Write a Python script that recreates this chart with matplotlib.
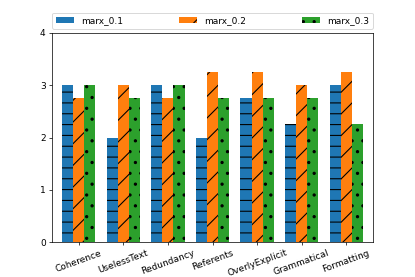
import matplotlib
matplotlib.use("Agg")
import matplotlib.pyplot as plt
import numpy as np

categories = ["Coherence", "UselessText", "Redundancy", "Referents",
              "OverlyExplicit", "Grammatical", "Formatting"]
marx_01 = [3.0, 2.0, 3.0, 2.0, 2.75, 2.25, 3.0]
marx_02 = [2.75, 3.0, 2.75, 3.25, 3.25, 3.0, 3.25]
marx_03 = [3.0, 2.75, 3.0, 2.75, 2.75, 2.75, 2.25]
series_labels = ["marx_0.1", "marx_0.2", "marx_0.3"]

plt.rcParams["hatch.linewidth"] = 1.2

DPI = 65
fig = plt.figure(figsize=(415 / DPI, 277 / DPI), dpi=DPI)
ax = fig.add_axes([52 / 415, 35 / 277, (373 - 52) / 415, (242 - 33) / 277])

x = np.arange(len(categories))
w = 0.25
ax.bar(x - w, marx_01, w, label=series_labels[0], color="#1f77b4", hatch="-")
ax.bar(x, marx_02, w, label=series_labels[1], color="#ff7f0e", hatch="/")
ax.bar(x + w, marx_03, w, label=series_labels[2], color="#2ca02c", hatch=".")

ax.set_xticks(x)
ax.set_xticklabels(categories, rotation=20)
ax.set_xlim(-0.6, 6.6)
ax.set_ylim(0, 4)
ax.set_yticks([0, 1, 2, 3, 4])

ax.legend(bbox_to_anchor=(0.0, 1.02, 1.0, 0.102), loc="lower left",
          ncol=3, mode="expand", borderaxespad=0.0)

fig.savefig("out.png", dpi=DPI)
